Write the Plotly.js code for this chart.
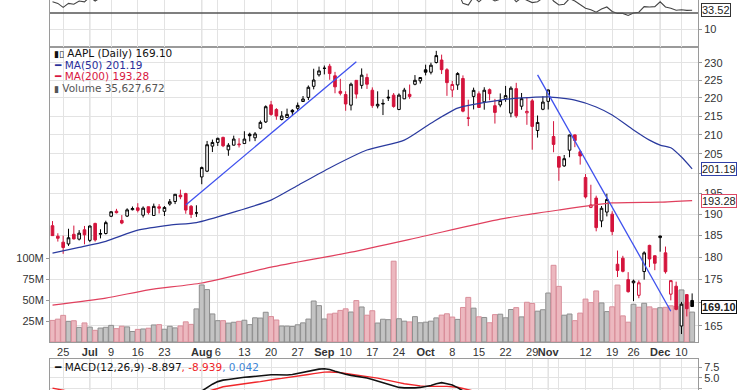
<!DOCTYPE html>
<html><head><meta charset="utf-8">
<script src="https://cdn.plot.ly/plotly-3.0.1.min.js"></script>
<style>body{margin:0;background:#fff}#chart{width:745px;height:390px}</style>
</head><body><div id="chart"></div>
<script>
const dates = ['2018-06-21','2018-06-22','2018-06-25','2018-06-26','2018-06-27','2018-06-28','2018-06-29',
'2018-07-02','2018-07-03','2018-07-05','2018-07-06','2018-07-09','2018-07-10','2018-07-11','2018-07-12','2018-07-13','2018-07-16','2018-07-17','2018-07-18','2018-07-19','2018-07-20','2018-07-23','2018-07-24','2018-07-25','2018-07-26','2018-07-27','2018-07-30','2018-07-31',
'2018-08-01','2018-08-02','2018-08-03','2018-08-06','2018-08-07','2018-08-08','2018-08-09','2018-08-10','2018-08-13','2018-08-14','2018-08-15','2018-08-16','2018-08-17','2018-08-20','2018-08-21','2018-08-22','2018-08-23','2018-08-24','2018-08-27','2018-08-28','2018-08-29','2018-08-30','2018-08-31',
'2018-09-04','2018-09-05','2018-09-06','2018-09-07','2018-09-10','2018-09-11','2018-09-12','2018-09-13','2018-09-14','2018-09-17','2018-09-18','2018-09-19','2018-09-20','2018-09-21','2018-09-24','2018-09-25','2018-09-26','2018-09-27','2018-09-28',
'2018-10-01','2018-10-02','2018-10-03','2018-10-04','2018-10-05','2018-10-08','2018-10-09','2018-10-10','2018-10-11','2018-10-12','2018-10-15','2018-10-16','2018-10-17','2018-10-18','2018-10-19','2018-10-22','2018-10-23','2018-10-24','2018-10-25','2018-10-26','2018-10-29','2018-10-30','2018-10-31',
'2018-11-01','2018-11-02','2018-11-05','2018-11-06','2018-11-07','2018-11-08','2018-11-09','2018-11-12','2018-11-13','2018-11-14','2018-11-15','2018-11-16','2018-11-19','2018-11-20','2018-11-21','2018-11-23','2018-11-26','2018-11-27','2018-11-28','2018-11-29','2018-11-30',
'2018-12-03','2018-12-04','2018-12-06','2018-12-07','2018-12-10','2018-12-11','2018-12-12'];

const open = [187.25,184.78,183.40,182.99,185.23,184.10,186.29,
183.82,187.79,185.26,185.42,189.50,190.71,188.50,189.53,191.08,191.52,189.75,191.78,189.69,191.78,190.68,192.45,193.06,194.61,194.99,191.90,190.30,
199.13,200.58,207.03,208.00,209.32,206.05,207.28,207.36,207.70,210.16,209.22,211.75,213.44,218.10,216.80,214.10,214.65,216.60,217.15,219.01,220.15,223.25,226.51,
228.41,228.99,226.23,221.85,220.95,218.01,224.94,223.52,225.75,222.15,217.79,218.50,220.24,220.78,216.82,219.75,221.00,223.82,224.79,
227.95,227.25,230.05,230.78,227.96,222.21,223.64,225.46,214.52,220.42,221.16,218.93,222.30,217.86,218.06,219.79,215.83,222.60,217.71,215.90,219.19,211.15,216.88,
219.05,209.55,204.30,201.92,205.97,209.98,205.55,199.00,191.63,193.90,188.39,190.50,190.00,178.37,179.73,174.94,174.24,171.51,176.73,182.66,180.29,
184.46,180.95,171.76,173.49,165.00,171.66,170.40];
const high = [188.35,185.47,184.92,186.53,187.28,186.21,187.19,
187.30,187.95,186.41,188.43,190.68,191.28,189.78,191.41,191.84,192.65,191.87,191.80,192.55,192.43,191.96,193.66,194.85,195.96,195.19,192.20,192.14,
201.76,208.38,208.74,209.25,209.50,207.81,209.78,209.10,210.95,210.56,210.74,213.81,217.95,219.18,217.19,216.36,217.05,216.90,218.74,220.54,223.49,228.26,228.87,
229.18,229.67,227.35,225.37,221.85,224.30,225.00,228.35,226.84,222.95,221.85,219.62,222.28,221.36,221.26,222.82,223.75,226.44,225.84,
229.42,230.00,233.47,232.35,228.41,224.80,227.27,226.35,219.50,222.88,221.83,222.99,222.64,219.74,221.26,223.36,223.25,224.23,221.38,220.19,219.69,215.18,220.45,
222.36,213.65,204.39,204.72,210.06,210.12,206.01,199.85,197.18,194.48,191.97,194.97,190.70,181.47,180.27,176.60,174.95,174.77,181.29,182.80,180.33,
184.94,182.39,174.78,174.49,170.09,171.79,171.92];
const low = [184.94,183.54,180.73,182.54,184.03,183.80,182.91,
183.42,183.54,184.28,185.20,189.30,190.18,187.61,189.31,190.90,190.42,189.20,189.93,189.69,190.17,189.56,192.05,192.43,193.61,190.10,189.07,189.34,
197.31,200.35,205.48,207.07,206.76,204.52,207.20,206.67,207.70,208.26,208.33,211.47,213.16,215.11,214.03,213.84,214.60,215.11,216.33,218.92,219.41,222.40,226.00,
226.63,225.10,221.30,220.71,216.47,216.56,219.84,222.57,222.52,217.27,217.12,215.30,219.15,217.29,216.63,219.70,219.76,223.54,224.02,
226.35,226.63,229.78,226.73,220.58,220.20,222.25,216.05,212.32,216.84,217.27,216.76,219.34,213.00,217.43,218.94,214.70,214.54,216.75,212.67,206.09,209.27,216.62,
216.81,205.43,198.17,201.69,204.13,206.75,202.25,193.79,191.45,185.93,186.90,189.46,184.99,175.51,176.55,172.10,170.26,170.88,174.93,177.70,177.03,
181.21,176.27,170.42,168.30,163.33,167.00,169.02];
const close = [184.92,184.31,182.17,184.43,184.16,185.50,185.11,
187.18,183.92,185.40,187.97,190.58,190.35,187.88,191.03,191.33,190.91,191.45,190.40,191.88,191.44,191.61,193.00,194.82,194.21,190.98,189.91,190.29,
201.50,207.39,207.99,209.07,207.11,207.25,208.88,207.53,208.87,209.75,210.24,213.32,217.58,215.46,215.04,215.05,215.49,216.16,217.94,219.70,222.98,225.03,227.63,
228.36,226.87,223.10,221.30,218.33,223.85,221.07,226.41,223.84,217.88,218.24,218.37,220.03,217.66,220.79,222.19,220.42,224.95,225.74,
227.26,229.28,232.07,227.99,224.29,223.77,226.87,216.36,214.45,222.11,217.36,222.15,221.19,216.02,219.31,220.65,222.73,215.09,219.80,216.30,212.24,213.30,218.86,
222.22,207.48,201.59,203.77,209.95,208.49,204.47,194.17,192.23,186.80,191.41,193.53,185.86,176.98,176.78,172.29,174.62,174.24,180.94,179.55,178.58,
184.82,176.69,174.72,168.49,169.60,168.63,169.10];
const firstPrevClose = 185.46;
// volume in millions of shares
const volume = [25.7,27.2,31.7,24.6,25.3,17.4,22.7,
17.7,13.9,16.6,17.5,19.8,15.9,18.8,18.0,12.5,15.0,15.5,16.4,20.3,20.7,15.2,18.7,16.8,19.1,24.0,21.0,39.4,
67.9,62.4,33.4,25.4,25.4,22.5,23.5,24.6,25.9,20.7,28.8,28.5,35.4,30.3,26.2,19.0,18.9,18.5,20.5,22.8,27.3,48.8,43.3,
27.4,33.3,34.3,37.6,39.5,35.7,49.3,41.7,31.9,37.2,22.6,27.1,26.6,96.2,27.7,24.8,23.9,30.2,22.9,
23.6,24.8,28.7,32.0,33.6,29.7,26.9,41.1,53.1,40.3,30.0,29.2,22.9,32.6,33.1,28.8,38.7,40.9,29.9,47.3,45.9,36.7,38.4,
58.3,91.3,66.2,31.9,33.3,25.4,34.4,51.1,46.9,60.8,46.5,36.2,41.9,67.8,31.1,23.6,44.9,41.4,46.1,41.8,39.5,
40.8,41.3,43.1,42.3,62.0,47.3,35.627672];

const ma50Dates = ['2018-06-21','2018-06-28','2018-07-06','2018-07-16','2018-07-24','2018-07-31','2018-08-09','2018-08-20','2018-08-27','2018-09-05','2018-09-14','2018-09-25','2018-10-02','2018-10-09','2018-10-19','2018-10-25','2018-11-01','2018-11-08','2018-11-14','2018-11-19','2018-11-26','2018-11-29','2018-12-03','2018-12-06','2018-12-10','2018-12-12'];
const ma50 = [180.9,182.2,183.6,186.2,187.4,188.0,190.5,193.4,197.0,201.4,206.0,208.6,213.1,217.2,219.4,220.0,220.3,219.4,217.5,215.3,211.3,208.6,207.3,206.6,204.2,201.19];
const ma200Dates = ['2018-06-21','2018-07-06','2018-07-18','2018-08-01','2018-08-20','2018-09-11','2018-09-28','2018-10-19','2018-11-05','2018-11-19','2018-12-03','2018-12-12'];
const ma200 = [169.4,170.9,172.7,174.2,177.7,181.1,184.6,188.8,191.0,192.7,192.9,193.28];

const trend1Dates = ['2018-07-27','2018-09-12'];
const trend1 = [192.2,230.3];
const trend2Dates = ['2018-10-30','2018-12-06'];
const trend2 = [226.5,168.1];

const rsi = [44,42,37,42,41,45,44,50,45,48,53,58,57,52,59,60,58,60,57,60,59,59,63,66,64,53,51,51,
68,76,77,78,73,73,75,71,73,74,75,78,82,76,75,75,75,76,78,80,83,85,86,
86,80,69,64,57,65,60,66,60,50,51,51,54,50,55,57,54,61,62,
63,66,69,59,53,52,57,42,40,50,44,50,49,45,48,50,52,44,49,46,43,44,50,
54,45,40,41,48,45,40,36,34,31,35,37.5,32,29.5,29.5,27,30,31,38,37.5,38,
44,37.5,36,33.5,34,33.3,33.52];
const rsiLevel = 30;

const macd = [1.5,1.2,0.8,0.6,0.4,0.4,0.3,0.4,0.2,0.2,0.4,0.7,0.9,0.9,1.1,1.3,1.4,1.5,1.5,1.6,1.6,1.7,1.8,1.95,1.9,1.6,1.3,1.0,
1.9,2.8,3.5,4.1,4.45,4.6,4.8,5.0,5.1,5.2,5.35,5.5,5.7,5.7,5.7,5.65,5.65,5.75,6.0,6.3,6.6,6.8,7.0,
7.1,6.9,6.5,6.1,5.8,5.55,5.4,5.2,4.95,4.6,4.2,3.8,3.4,3.0,2.75,2.65,2.6,2.65,2.75,
2.9,3.2,3.6,3.85,3.6,3.3,2.7,1.8,1.2,1.0,0.5,0.5,0.4,0.0,-0.1,-0.1,0.0,-0.5,-0.5,-0.8,-1.3,-1.6,-1.3,
-0.8,-2.0,-3.4,-4.2,-4.3,-4.5,-4.9,-6.0,-6.9,-8.0,-8.5,-8.6,-9.2,-10.4,-11.3,-12.3,-12.7,-12.9,-12.4,-11.9,-11.5,
-10.8,-10.5,-10.2,-9.6,-9.2,-9.0,-8.897];
const signal = [2.6,2.3,2.0,1.75,1.5,1.3,1.1,1.0,0.9,0.8,0.7,0.7,0.75,0.8,0.85,0.9,0.95,1.05,1.1,1.2,1.25,1.3,1.4,1.45,1.5,1.5,1.5,1.4,
1.5,1.8,2.1,2.5,2.9,3.1,3.3,3.45,3.6,3.8,3.95,4.1,4.35,4.55,4.7,4.85,5.0,5.15,5.35,5.55,5.75,5.95,6.15,
6.3,6.35,6.3,6.2,6.0,5.85,5.7,5.5,5.3,5.1,4.9,4.6,4.35,4.1,3.85,3.6,3.4,3.2,3.1,
3.0,2.95,2.95,3.0,3.0,2.95,2.8,2.5,2.1,1.8,1.5,1.3,1.1,0.9,0.7,0.5,0.4,0.2,0.1,-0.1,-0.3,-0.6,-0.7,
-0.8,-1.0,-1.5,-2.0,-2.4,-2.8,-3.2,-3.8,-4.4,-5.1,-5.8,-6.3,-6.9,-7.6,-8.3,-9.1,-9.8,-10.4,-10.8,-11.0,-11.1,
-11.0,-10.8,-10.5,-10.1,-9.6,-8.95,-8.939];

const tickDates = ['2018-06-25','2018-07-02','2018-07-09','2018-07-16','2018-07-23','2018-08-01','2018-08-06','2018-08-13','2018-08-20','2018-08-27','2018-09-04','2018-09-10','2018-09-17','2018-09-24','2018-10-01','2018-10-08','2018-10-15','2018-10-22','2018-10-29','2018-11-01','2018-11-05','2018-11-12','2018-11-19','2018-11-26','2018-12-03','2018-12-10'];
const tickLabels = ['25','<b>Jul</b>','9','16','23','<b>Aug</b>','6','13','20','27','<b>Sep</b>','10','17','24','<b>Oct</b>','8','15','22','29','<b>Nov</b>','','12','19','26','<b>Dec</b>','10'];
const monthStarts = ['2018-07-02','2018-08-01','2018-09-04','2018-10-01','2018-11-01','2018-12-03'];
const priceTicks = [165,170,175,180,185,190,195,200,205,210,215,220,225,230];
const priceTickText = ['165','','175','180','185','190','195','','205','210','215','220','225','230'];
const volTicks = [25,50,75,100];
const macdTicks = [2.5,5.0,7.5];
const rsiTicks = [10];

// ---------- build ----------
const W = 745, H = 390, L = 50, R = 47;
const PW = W - L - R;
const px2x = p => (p - L) / PW;
const py2y = p => 1 - p / H;
const priceDom = [py2y(342), py2y(46.7)];
const rsiDom = [py2y(46.7), 1];
const macdDom = [0, py2y(359)];

const RED = '#d4143c', BLACK = '#000000';
const prevClose = [firstPrevClose].concat(close.slice(0, -1));
const upI = [], dnI = [];
close.forEach((c, i) => (c >= prevClose[i] ? upI : dnI).push(i));
const pick = (a, idx) => idx.map(i => a[i]);

function candle(idx, col) {
  return {
    type: 'candlestick', xaxis: 'x', yaxis: 'y2',
    x: pick(dates, idx), open: pick(open, idx), high: pick(high, idx), low: pick(low, idx), close: pick(close, idx),
    increasing: {line: {color: col, width: 1}, fillcolor: '#ffffff'},
    decreasing: {line: {color: col, width: 1}, fillcolor: col},
    whiskerwidth: 0, showlegend: false, hoverinfo: 'skip'
  };
}

const volUp = close.map((c, i) => c >= prevClose[i]);
const volTrace = {
  type: 'bar', xaxis: 'x', yaxis: 'y', x: dates, y: volume,
  marker: {color: volUp.map(u => u ? '#c3c3c3' : '#ecb8bf'),
           line: {color: volUp.map(u => u ? '#8f8f8f' : '#d98e9a'), width: 1}},
  width: 0.92, hoverinfo: 'skip', showlegend: false
};

const traces = [
  volTrace,
  {type: 'scatter', mode: 'lines', xaxis: 'x', yaxis: 'y2', x: ma200Dates, y: ma200,
   line: {color: '#e0405e', width: 1.2, shape: 'spline', smoothing: 0.6}, hoverinfo: 'skip'},
  {type: 'scatter', mode: 'lines', xaxis: 'x', yaxis: 'y2', x: ma50Dates, y: ma50,
   line: {color: '#2a3a9e', width: 1.2, shape: 'spline', smoothing: 0.6}, hoverinfo: 'skip'},
  candle(upI, BLACK),
  candle(dnI, RED),
  {type: 'scatter', mode: 'lines', xaxis: 'x', yaxis: 'y2', x: trend1Dates, y: trend1,
   line: {color: '#3f51ee', width: 1.3}, hoverinfo: 'skip'},
  {type: 'scatter', mode: 'lines', xaxis: 'x', yaxis: 'y2', x: trend2Dates, y: trend2,
   line: {color: '#3f51ee', width: 1.3}, hoverinfo: 'skip'},
  {type: 'scatter', mode: 'lines', xaxis: 'x2', yaxis: 'y3', x: dates, y: rsi,
   line: {color: '#444', width: 1.1}, hoverinfo: 'skip'},
  {type: 'scatter', mode: 'lines', xaxis: 'x3', yaxis: 'y4', x: dates, y: signal,
   line: {color: '#f0262a', width: 1.4}, hoverinfo: 'skip'},
  {type: 'scatter', mode: 'lines', xaxis: 'x3', yaxis: 'y4', x: dates, y: macd,
   line: {color: '#111', width: 1.6}, hoverinfo: 'skip'}
];

const tickFont = {family: 'Liberation Sans, Arial, sans-serif', size: 11, color: '#333'};
const xRange = [-0.47, 121.1];
function xAx(anchor, labels) {
  return {type: 'category', categoryorder: 'array', categoryarray: dates, range: xRange, anchor: anchor,
    domain: [0, 1], tickmode: 'array', tickvals: tickDates, ticktext: tickLabels, showticklabels: labels,
    tickfont: tickFont, ticks: '', showgrid: true, gridcolor: '#e3e3e3', gridwidth: 1, zeroline: false,
    showline: true, mirror: true, linecolor: '#9a9a9a', linewidth: 1, fixedrange: true, tickangle: 0,
    rangeslider: {visible: false}};
}
const gridGrey = '#e3e3e3';
const layout = {
  width: W, height: H, margin: {l: L, r: R, t: 0, b: 0, pad: 0},
  paper_bgcolor: '#ffffff', plot_bgcolor: '#ffffff', showlegend: false, hovermode: false,
  bargap: 0.08,
  xaxis: xAx('y', true),
  xaxis2: xAx('y3', false),
  xaxis3: xAx('y4', false),
  yaxis: {domain: priceDom, range: [0, 295.3 / 0.84], side: 'left', anchor: 'x', tickmode: 'array',
    tickvals: volTicks, ticktext: volTicks.map(v => v + 'M'), tickfont: tickFont, showgrid: false,
    ticks: 'outside', ticklen: 3, tickcolor: '#999', showline: true, linecolor: '#9a9a9a', zeroline: false, fixedrange: true},
  yaxis2: {domain: priceDom, overlaying: 'y', anchor: 'x', side: 'right', type: 'log',
    range: [Math.log10(161.70), Math.log10(234.69)], tickmode: 'array', tickvals: priceTicks,
    ticktext: priceTickText, tickfont: tickFont, showgrid: true, gridcolor: gridGrey,
    ticks: 'outside', ticklen: 3, tickcolor: '#999', showline: true, linecolor: '#9a9a9a', zeroline: false, fixedrange: true},
  yaxis3: {domain: rsiDom, anchor: 'x2', side: 'right', range: [-12.1, 46.25], tickmode: 'array',
    tickvals: rsiTicks, ticktext: rsiTicks.map(String), tickfont: tickFont, showgrid: true, gridcolor: gridGrey,
    ticks: 'outside', ticklen: 3, tickcolor: '#999', showline: true, mirror: true, linecolor: '#9a9a9a', zeroline: false, fixedrange: true},
  yaxis4: {domain: macdDom, anchor: 'x3', side: 'right', range: [2.15, 9.36], tickmode: 'array',
    tickvals: macdTicks, ticktext: macdTicks.map(v => v.toFixed(1)), tickfont: tickFont, showgrid: true, gridcolor: gridGrey,
    ticks: 'outside', ticklen: 3, tickcolor: '#999', showline: true, mirror: true, linecolor: '#9a9a9a', zeroline: false, fixedrange: true},
  shapes: [],
  annotations: []
};

// darker month separators in each panel
monthStarts.forEach(m => {
  const xi = dates.indexOf(m);
  [['x', 'y domain'], ['x2', 'y3 domain'], ['x3', 'y4 domain']].forEach(([xr, yr]) => {
    layout.shapes.push({type: 'line', xref: xr, yref: yr, x0: xi, x1: xi, y0: 0, y1: 1,
      line: {color: '#c4c4c4', width: 1}, layer: 'below'});
  });
});
// RSI 30 reference level
layout.shapes.push({type: 'line', xref: 'x2 domain', yref: 'y3', x0: 0, x1: 1, y0: rsiLevel, y1: rsiLevel,
  line: {color: '#555', width: 1.5}, layer: 'above'});

const last = a => a[a.length - 1];
const legFont = {family: 'DejaVu Sans, sans-serif', size: 10.5};
function legend(py, html, color) {
  layout.annotations.push({xref: 'paper', yref: 'paper', x: px2x(52), y: py2y(py), xanchor: 'left', yanchor: 'middle',
    text: html, showarrow: false, font: Object.assign({color: color}, legFont)});
}
legend(53.5, '<span style="font-size:9px">▮▯</span> AAPL (Daily) ' + last(close).toFixed(2), '#111');
legend(65, '━ MA(50) ' + last(ma50).toFixed(2), '#2a2f9a');
legend(76, '━ MA(200) ' + last(ma200).toFixed(2), '#d8173f');
legend(88, '<span style="font-size:9px">▮</span> Volume ' + Math.round(last(volume) * 1e6).toLocaleString('en-US'), '#555');
legend(367, '━ MACD(12,26,9) ' + last(macd).toFixed(3) +
  '<span style="color:#f0262a">, ' + last(signal).toFixed(3) + '</span>' +
  '<span style="color:#3d86d8">, ' + (last(macd) - last(signal)).toFixed(3) + '</span>', '#111');

function tag(yref, yv, txt, border, bold) {
  layout.annotations.push({xref: 'paper', yref: yref, x: px2x(701), y: yv, xanchor: 'left', yanchor: 'middle',
    text: bold ? '<b>' + txt + '</b>' : txt, showarrow: false, bgcolor: '#ffffff', bordercolor: border, borderwidth: 1,
    borderpad: 0, font: {family: 'Liberation Sans, Arial, sans-serif', size: 11, color: '#222'}});
}
tag('y3', last(rsi), last(rsi).toFixed(2), '#333', false);
tag('y2', Math.log10(last(ma50)), last(ma50).toFixed(2), '#3040a8', false);
tag('y2', Math.log10(last(ma200)), last(ma200).toFixed(2), '#dd4a66', false);
tag('y2', Math.log10(last(close)), last(close).toFixed(2), '#111', true);

Plotly.newPlot('chart', traces, layout, {staticPlot: true, displayModeBar: false});
</script></body></html>
